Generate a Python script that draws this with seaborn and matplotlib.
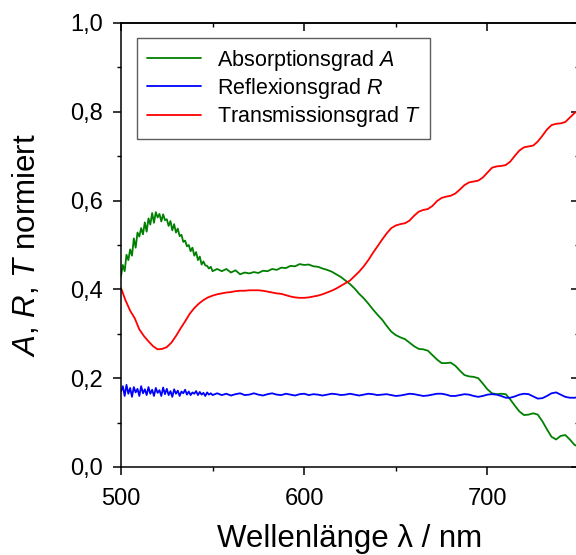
import numpy as np
import pandas as pd
import matplotlib
matplotlib.use("Agg")
import matplotlib.pyplot as plt
from matplotlib.ticker import MultipleLocator, FuncFormatter
import seaborn as sns

# ---------------- data ----------------
wl_fine_a = list(range(500, 551))
a_fine = [0.430, 0.455, 0.441, 0.478, 0.466, 0.490, 0.476, 0.515, 0.494, 0.528,
          0.519, 0.538, 0.524, 0.551, 0.530, 0.560, 0.546, 0.572, 0.550, 0.574,
          0.562, 0.570, 0.553, 0.569, 0.556, 0.558, 0.543, 0.554, 0.533, 0.547,
          0.528, 0.537, 0.520, 0.523, 0.507, 0.510, 0.497, 0.500, 0.486, 0.494,
          0.476, 0.484, 0.466, 0.474, 0.456, 0.463, 0.454, 0.453, 0.447, 0.451,
          0.441]
wl_coarse = [552.5 + 2.5 * i for i in range(80)]  # 552.5 ... 750
a_coarse = [0.446, 0.441, 0.446, 0.438, 0.443, 0.434, 0.438, 0.436, 0.439, 0.437,
            0.442, 0.441, 0.446, 0.444, 0.449, 0.448, 0.453, 0.452, 0.457, 0.455,
            0.456, 0.452, 0.451, 0.447, 0.444, 0.440, 0.434, 0.428, 0.420, 0.412,
            0.402, 0.390, 0.380, 0.368, 0.355, 0.343, 0.332, 0.318, 0.305, 0.297,
            0.292, 0.288, 0.280, 0.272, 0.266, 0.265, 0.262, 0.252, 0.242, 0.234,
            0.234, 0.235, 0.228, 0.217, 0.207, 0.204, 0.203, 0.200, 0.188, 0.175,
            0.166, 0.164, 0.165, 0.164, 0.152, 0.138, 0.125, 0.117, 0.118, 0.121,
            0.118, 0.103, 0.085, 0.068, 0.062, 0.070, 0.072, 0.062, 0.050, 0.045]

wl_fine_r = list(range(500, 551))
r_fine = [0.170, 0.182, 0.160, 0.185, 0.165, 0.178, 0.158, 0.180, 0.168, 0.176,
          0.160, 0.182, 0.166, 0.175, 0.162, 0.180, 0.165, 0.174, 0.160, 0.178,
          0.167, 0.173, 0.160, 0.179, 0.164, 0.176, 0.162, 0.171, 0.158, 0.175,
          0.165, 0.172, 0.160, 0.170, 0.166, 0.174, 0.163, 0.170, 0.162, 0.168,
          0.165, 0.171, 0.162, 0.169, 0.163, 0.167, 0.160, 0.168, 0.163, 0.166,
          0.162]
r_coarse = [0.166, 0.162, 0.165, 0.161, 0.164, 0.166, 0.162, 0.163, 0.166, 0.163,
            0.161, 0.164, 0.166, 0.163, 0.162, 0.165, 0.163, 0.161, 0.164, 0.165,
            0.162, 0.164, 0.163, 0.161, 0.163, 0.165, 0.164, 0.162, 0.163, 0.165,
            0.163, 0.161, 0.163, 0.165, 0.164, 0.162, 0.163, 0.164, 0.162, 0.160,
            0.161, 0.163, 0.165, 0.164, 0.162, 0.160, 0.161, 0.163, 0.165, 0.165,
            0.163, 0.160, 0.160, 0.162, 0.164, 0.163, 0.160, 0.158, 0.160, 0.163,
            0.164, 0.163, 0.160, 0.156, 0.156, 0.159, 0.163, 0.165, 0.164, 0.159,
            0.154, 0.155, 0.160, 0.166, 0.168, 0.163, 0.158, 0.156, 0.156, 0.157]

wl_t = [500 + 2.5 * i for i in range(101)]  # 500 ... 750
t_vals = [0.403, 0.375, 0.352, 0.335, 0.310, 0.295, 0.283, 0.272, 0.265, 0.266,
          0.270, 0.280, 0.295, 0.312, 0.328, 0.345, 0.358, 0.368, 0.376, 0.382,
          0.386, 0.389, 0.391, 0.393, 0.394, 0.396, 0.397, 0.397, 0.398, 0.398,
          0.398, 0.397, 0.395, 0.393, 0.391, 0.390, 0.387, 0.384, 0.382, 0.381,
          0.381, 0.382, 0.384, 0.386, 0.389, 0.393, 0.397, 0.402, 0.408, 0.414,
          0.420, 0.430, 0.440, 0.452, 0.466, 0.482, 0.497, 0.512, 0.526, 0.538,
          0.544, 0.547, 0.549, 0.555, 0.566, 0.575, 0.579, 0.581, 0.588, 0.599,
          0.606, 0.609, 0.611, 0.616, 0.625, 0.635, 0.641, 0.643, 0.645, 0.652,
          0.663, 0.674, 0.677, 0.678, 0.680, 0.688, 0.701, 0.713, 0.720, 0.722,
          0.724, 0.733, 0.746, 0.760, 0.770, 0.773, 0.774, 0.777, 0.787, 0.797,
          0.805]

labels = ["Absorptionsgrad $A$", "Reflexionsgrad $R$", "Transmissionsgrad $T$"]
colors = ["#008000", "#0000ff", "#ff0000"]

# ---------------- long-form table ----------------
df = pd.concat([
    pd.DataFrame({"wl": wl_fine_a + wl_coarse, "val": a_fine + a_coarse, "serie": labels[0]}),
    pd.DataFrame({"wl": wl_fine_r + wl_coarse, "val": r_fine + r_coarse, "serie": labels[1]}),
    pd.DataFrame({"wl": wl_t, "val": t_vals, "serie": labels[2]}),
], ignore_index=True)

# ---------------- styling ----------------
sns.set_theme(style="ticks")
plt.rcParams["font.family"] = ["Liberation Sans", "DejaVu Sans"]
plt.rcParams["mathtext.fontset"] = "custom"
plt.rcParams["mathtext.rm"] = "Liberation Sans"
plt.rcParams["mathtext.it"] = "Liberation Sans:italic"
plt.rcParams["text.color"] = "black"
plt.rcParams["axes.labelcolor"] = "black"
plt.rcParams["xtick.color"] = "black"
plt.rcParams["ytick.color"] = "black"
plt.rcParams["axes.edgecolor"] = "black"

fig = plt.figure(figsize=(5.76, 5.55), dpi=100)
ax = fig.add_axes([121 / 576, 88 / 555, 458 / 576, 444 / 555])

sns.lineplot(data=df, x="wl", y="val", hue="serie", hue_order=labels,
             palette=colors, estimator=None, linewidth=1.3, ax=ax, legend=False)

ax.set_xlim(500, 750)
ax.set_ylim(0, 1.0)
ax.xaxis.set_major_locator(MultipleLocator(100))
ax.xaxis.set_minor_locator(MultipleLocator(50))
ax.yaxis.set_major_locator(MultipleLocator(0.2))
ax.yaxis.set_minor_locator(MultipleLocator(0.1))
ax.yaxis.set_major_formatter(FuncFormatter(lambda v, p: f"{v:.1f}".replace(".", ",")))
ax.xaxis.set_major_formatter(FuncFormatter(lambda v, p: f"{v:.0f}"))

for s in ax.spines.values():
    s.set_linewidth(1.1)
    s.set_color("black")
    s.set_visible(True)

ax.tick_params(axis="both", which="major", labelsize=17, length=6, width=1.1,
               direction="out", colors="black", labelcolor="black")
ax.tick_params(axis="both", which="minor", length=3, width=1.0, direction="out")
ax.tick_params(axis="y", which="major", pad=7)
ax.tick_params(axis="x", which="major", pad=9)

# mirrored inward ticks on top and right
axt = ax.secondary_xaxis("top")
axt.xaxis.set_major_locator(MultipleLocator(100))
axt.xaxis.set_minor_locator(MultipleLocator(50))
axt.tick_params(which="major", direction="in", length=6, width=1.1, labeltop=False)
axt.tick_params(which="minor", direction="in", length=3, width=1.0)
axt.spines["top"].set_linewidth(1.1)
axr = ax.secondary_yaxis("right")
axr.yaxis.set_major_locator(MultipleLocator(0.2))
axr.yaxis.set_minor_locator(MultipleLocator(0.1))
axr.tick_params(which="major", direction="in", length=6, width=1.1, labelright=False)
axr.tick_params(which="minor", direction="in", length=3, width=1.0)

ax.set_xlabel("Wellenlänge λ / nm", fontsize=22.5, labelpad=10.5, color="black")
ax.set_ylabel("$A$, $R$, $T$ normiert", fontsize=22.5, labelpad=20, color="black")

handles = [plt.Line2D([], [], color=c, lw=1.3) for c in colors]
leg = ax.legend(handles, labels, loc="upper left", bbox_to_anchor=(0.035, 0.966),
                borderaxespad=0, fontsize=15.5, frameon=True, fancybox=False,
                edgecolor="#333333", handlelength=2.5, handletextpad=0.75,
                labelspacing=0.15, borderpad=0.45)
leg.get_frame().set_linewidth(1.0)
for t in leg.get_texts():
    t.set_color("black")

fig.savefig("out.png", dpi=100)
